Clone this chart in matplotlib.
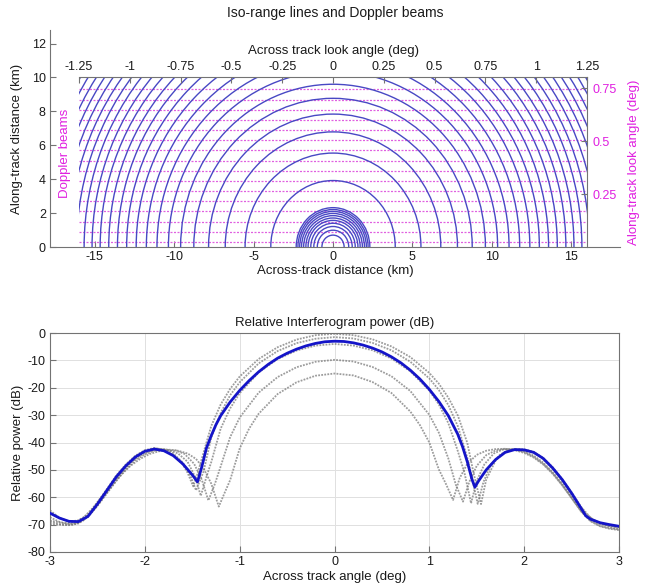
import matplotlib
matplotlib.use("Agg")
import numpy as np
import matplotlib.pyplot as plt
from matplotlib.patches import Arc, Rectangle

plt.rcParams['font.family'] = ['Liberation Sans', 'DejaVu Sans']
plt.rcParams['axes.unicode_minus'] = False

# ---------------- top panel data ----------------
# ground radii of the iso-range lines (km)
near_radii = [0.70, 0.99, 1.21, 1.40, 1.57, 1.71, 1.85, 1.98, 2.10, 2.21, 2.32]
far_radii = [3.92, 5.54, 6.79, 7.84, 8.77, 9.60, 10.37, 11.09, 11.76, 12.40,
             13.00, 13.58, 14.13, 14.67, 15.18, 15.68, 16.16, 16.63, 17.09,
             17.53, 17.96, 18.39, 18.80]
# along-track positions of the Doppler beam centres (km)
doppler_y = [0.3, 0.9, 1.5, 2.1, 2.7, 3.3, 3.9, 4.5, 5.1, 5.7, 6.3, 6.9,
             7.5, 8.1, 8.7, 9.3]
swath_half = 16.0     # km
along_extent = 10.0   # km
across_angle_ticks = [-1.25, -1, -0.75, -0.5, -0.25, 0, 0.25, 0.5, 0.75, 1, 1.25]
across_angle_labels = ['-1.25', '-1', '-0.75', '-0.5', '-0.25', '0', '0.25',
                       '0.5', '0.75', '1', '1.25']
along_angle_ticks = [0.25, 0.5, 0.75]
along_angle_labels = ['0.25', '0.5', '0.75']

# ---------------- bottom panel data ----------------
blue_x = [-3.0, -2.9, -2.8, -2.7, -2.6, -2.5, -2.4, -2.3, -2.2, -2.1, -2.0,
          -1.9, -1.8, -1.7, -1.6, -1.5, -1.445, -1.40, -1.35, -1.3, -1.25,
          -1.2, -1.1, -1.0, -0.9, -0.8, -0.7, -0.6, -0.5, -0.4, -0.3, -0.2,
          -0.1, 0.0, 0.1, 0.2, 0.3, 0.4, 0.5, 0.6, 0.7, 0.8, 0.9, 1.0, 1.1,
          1.2, 1.3, 1.35, 1.4, 1.45, 1.48, 1.52, 1.6, 1.7, 1.8, 1.9, 2.0,
          2.1, 2.2, 2.3, 2.4, 2.5, 2.6, 2.65, 2.7, 2.8, 2.9, 3.0]
blue_y = [-65.8, -67.6, -68.8, -68.9, -67.0, -62.5, -57.5, -52.5, -48.5,
          -45.3, -43.2, -42.4, -43.0, -44.8, -47.8, -51.8, -54.4, -49.0,
          -42.0, -37.5, -33.5, -30.2, -25.2, -21.0, -17.4, -14.2, -11.5,
          -9.2, -7.4, -5.9, -4.7, -3.8, -3.2, -3.0, -3.1, -3.6, -4.4, -5.5,
          -6.9, -8.7, -10.9, -13.6, -16.8, -20.6, -25.0, -30.2, -37.0, -41.5,
          -47.0, -53.5, -56.3, -54.0, -50.0, -46.2, -43.6, -42.6, -42.7,
          -43.6, -45.8, -49.3, -53.5, -58.5, -64.0, -66.8, -68.0, -69.3,
          -70.0, -70.6]

g1_x = [-3.0, -2.9, -2.8, -2.7, -2.6, -2.5, -2.4, -2.3, -2.2, -2.1, -2.0,
        -1.9, -1.8, -1.7, -1.6, -1.55, -1.49, -1.45, -1.4, -1.3, -1.2, -1.1,
        -1.0, -0.8, -0.6, -0.4, -0.2, 0.0, 0.2, 0.4, 0.6, 0.8, 1.0, 1.1, 1.2,
        1.3, 1.4, 1.465, 1.545, 1.6, 1.7, 1.8, 1.9, 2.0, 2.1, 2.2, 2.3, 2.4,
        2.5, 2.6, 2.7, 2.8, 2.9, 3.0]
g1_y = [-64.8, -67.5, -68.8, -68.5, -66.3, -62.0, -57.0, -52.0, -48.0, -44.8,
        -42.8, -42.0, -42.7, -44.6, -48.0, -51.0, -56.0, -52.0, -46.0, -34.0,
        -26.1, -20.4, -15.9, -9.5, -5.2, -2.4, -0.8, -0.3, -0.8, -2.3, -4.9,
        -8.8, -14.6, -18.5, -23.6, -30.1, -40.1, -50.9, -62.5, -53.5, -46.5,
        -43.3, -42.4, -42.5, -43.4, -45.6, -49.0, -53.3, -58.2, -63.5, -67.5,
        -69.5, -70.8, -71.6]

g2_x = [-3.0, -2.9, -2.8, -2.7, -2.6, -2.5, -2.4, -2.3, -2.2, -2.1, -2.0,
        -1.9, -1.8, -1.7, -1.6, -1.52, -1.46, -1.38, -1.3, -1.2, -1.1, -1.0,
        -0.8, -0.6, -0.4, -0.2, 0.0, 0.2, 0.4, 0.6, 0.8, 1.0, 1.1, 1.2, 1.3,
        1.4, 1.45, 1.51, 1.57, 1.65, 1.75, 1.85, 1.95, 2.05, 2.15, 2.25,
        2.35, 2.45, 2.55, 2.65, 2.75, 2.85, 3.0]
g2_y = [-67.3, -69.0, -69.8, -69.3, -67.0, -63.0, -58.3, -53.5, -49.2, -45.6,
        -43.3, -42.2, -42.4, -44.0, -47.3, -52.0, -57.5, -50.5, -38.3, -29.2,
        -22.7, -18.0, -11.1, -6.6, -3.7, -2.1, -1.5, -2.0, -3.6, -6.3, -10.5,
        -16.6, -20.8, -26.3, -34.0, -45.5, -53.0, -62.4, -54.5, -48.0, -44.3,
        -42.7, -42.5, -43.0, -44.6, -47.6, -51.6, -56.3, -61.5, -66.0, -68.8,
        -70.0, -71.0]

g3_x = [-3.0, -2.85, -2.75, -2.65, -2.55, -2.45, -2.35, -2.25, -2.15, -2.05,
        -1.95, -1.85, -1.75, -1.65, -1.55, -1.47, -1.41, -1.35, -1.3, -1.2,
        -1.1, -1.0, -0.8, -0.6, -0.4, -0.2, 0.0, 0.2, 0.4, 0.6, 0.8, 1.0,
        1.1, 1.2, 1.3, 1.37, 1.44, 1.5, 1.58, 1.68, 1.78, 1.9, 2.0, 2.1, 2.2,
        2.3, 2.4, 2.5, 2.6, 2.7, 2.8, 2.9, 3.0]
g3_y = [-68.5, -69.5, -69.3, -67.5, -64.0, -59.5, -55.0, -50.8, -47.3, -44.8,
        -43.2, -42.6, -42.8, -44.0, -47.0, -52.5, -59.5, -52.5, -47.2, -34.9,
        -27.5, -22.0, -14.4, -9.5, -6.4, -4.6, -4.0, -4.6, -6.3, -9.3, -14.0,
        -21.0, -26.1, -32.9, -43.1, -51.0, -62.2, -54.0, -48.0, -44.0, -42.5,
        -42.4, -43.2, -44.8, -47.3, -50.8, -55.0, -60.0, -65.0, -68.2, -69.8,
        -70.5, -70.9]

g4_x = [-3.0, -2.9, -2.8, -2.7, -2.6, -2.5, -2.4, -2.3, -2.2, -2.1, -2.0,
        -1.9, -1.8, -1.68, -1.58, -1.48, -1.4, -1.33, -1.26, -1.2, -1.1,
        -1.0, -0.8, -0.6, -0.4, -0.2, 0.0, 0.2, 0.4, 0.6, 0.8, 1.0, 1.1, 1.2,
        1.28, 1.355, 1.42, 1.5, 1.6, 1.7, 1.8, 1.9, 2.0, 2.1, 2.2, 2.3, 2.4,
        2.5, 2.6, 2.7, 2.8, 2.9, 3.0]
g4_y = [-69.0, -69.8, -70.2, -69.6, -67.2, -63.2, -58.6, -54.0, -49.8, -46.5,
        -44.3, -43.0, -42.5, -42.8, -44.2, -47.8, -53.5, -61.2, -55.0, -48.7,
        -38.0, -30.9, -21.8, -16.1, -12.5, -10.5, -9.8, -10.4, -12.4, -15.8,
        -21.2, -29.9, -36.4, -45.8, -55.5, -61.6, -54.5, -48.5, -44.6, -42.9,
        -42.4, -42.6, -43.5, -45.2, -47.8, -51.2, -55.5, -60.3, -65.2, -68.8,
        -70.6, -71.5, -72.0]

g5_x = [-3.0, -2.85, -2.75, -2.65, -2.55, -2.45, -2.35, -2.25, -2.15, -2.05,
        -1.95, -1.85, -1.75, -1.65, -1.55, -1.46, -1.38, -1.3, -1.22, -1.16,
        -1.1, -1.0, -0.9, -0.8, -0.6, -0.4, -0.2, 0.0, 0.2, 0.4, 0.6, 0.8,
        0.9, 1.0, 1.1, 1.18, 1.25, 1.32, 1.4, 1.5, 1.6, 1.7, 1.8, 1.9, 2.0,
        2.1, 2.2, 2.3, 2.4, 2.5, 2.6, 2.7, 2.8, 2.9, 3.0]
g5_y = [-69.8, -70.2, -70.0, -68.5, -65.0, -60.5, -56.0, -51.8, -48.5, -46.0,
        -44.2, -43.2, -42.8, -43.0, -44.0, -46.0, -49.5, -55.0, -63.4, -58.5,
        -53.7, -42.2, -34.9, -29.5, -22.3, -18.0, -15.6, -14.8, -15.5, -17.9,
        -21.9, -28.7, -33.6, -40.0, -49.8, -55.5, -61.0, -53.0, -47.8, -44.5,
        -43.0, -42.4, -42.3, -42.8, -43.8, -45.5, -48.0, -51.4, -55.6, -60.3,
        -65.0, -68.6, -70.5, -71.3, -71.8]

gray_curves = [(g1_x, g1_y), (g2_x, g2_y), (g3_x, g3_y), (g4_x, g4_y), (g5_x, g5_y)]

# ---------------- styling ----------------
RANGE_COLOR = '#4848c4'
DOPPLER_COLOR = '#e060e0'
LABEL_MAGENTA = '#e020e0'
SPINE = '0.45'
TXT = '0.1'

fig = plt.figure(figsize=(6.45, 5.85), dpi=100)
W, H = 645.0, 585.0

# ---------------- top panel ----------------
ax1 = fig.add_axes([50 / W, 1 - 247 / H, 570 / W, 217 / H])
ax1.set_xlim(-17.83, 18.08)
ax1.set_ylim(0, 12.8)
for s in ('top', 'right'):
    ax1.spines[s].set_visible(False)
for s in ('left', 'bottom'):
    ax1.spines[s].set_color(SPINE)
ax1.set_xticks([-15, -10, -5, 0, 5, 10, 15])
ax1.set_yticks([0, 2, 4, 6, 8, 10, 12])
ax1.tick_params(direction='in', length=4, colors=SPINE, labelcolor=TXT,
                labelsize=9, pad=3)

clip_box = Rectangle((-swath_half, 0), 2 * swath_half, along_extent,
                     transform=ax1.transData, facecolor='none', edgecolor='none')
ax1.add_patch(clip_box)

ax1.hlines(doppler_y, -swath_half, swath_half, colors=DOPPLER_COLOR,
           linestyles=(0, (1.6, 1.2)), linewidth=0.9, zorder=2)

for r in near_radii + far_radii:
    arc = Arc((0, 0), 2 * r, 2 * r, theta1=0, theta2=180,
              color=RANGE_COLOR, linewidth=1.0, zorder=3)
    ax1.add_patch(arc)
    arc.set_clip_path(clip_box)

ax1.set_xlabel('Across-track distance (km)', fontsize=9.5, color=TXT, labelpad=1)
ax1.set_ylabel('Along-track distance (km)', fontsize=9.5, color=TXT, labelpad=6)
ax1.set_title('Iso-range lines and Doppler beams', fontsize=10, color=TXT, pad=9)
ax1.text(-16.9, 5.5, 'Doppler beams', rotation=90, color=LABEL_MAGENTA,
         fontsize=9.5, ha='center', va='center')

# angle axes laid over the imaged area
ax2 = ax1.inset_axes([-swath_half, 0, 2 * swath_half, along_extent],
                     transform=ax1.transData)
ax2.patch.set_visible(False)
ax2.set_xlim(-1.25, 1.25)
ax2.set_ylim(0, 0.8)
for s in ('left', 'bottom'):
    ax2.spines[s].set_visible(False)
for s in ('top', 'right'):
    ax2.spines[s].set_color(SPINE)
ax2.xaxis.tick_top()
ax2.xaxis.set_label_position('top')
ax2.yaxis.tick_right()
ax2.yaxis.set_label_position('right')
ax2.set_xticks(across_angle_ticks)
ax2.set_xticklabels(across_angle_labels)
ax2.set_yticks(along_angle_ticks)
ax2.set_yticklabels(along_angle_labels)
ax2.tick_params(axis='x', direction='in', length=4, colors=SPINE,
                labelcolor=TXT, labelsize=9, pad=3)
ax2.tick_params(axis='y', direction='in', length=4, colors=SPINE,
                labelcolor=LABEL_MAGENTA, labelsize=9, pad=4)
ax2.set_xlabel('Across track look angle (deg)', fontsize=9.5, color=TXT, labelpad=5)
ax2.set_ylabel('Along-track look angle (deg)', fontsize=9.5,
               color=LABEL_MAGENTA, labelpad=8)

# ---------------- bottom panel ----------------
ax3 = fig.add_axes([50 / W, 1 - 552 / H, 569 / W, 219 / H])
ax3.set_xlim(-3, 3)
ax3.set_ylim(-80, 0)
ax3.set_xticks([-3, -2, -1, 0, 1, 2, 3])
ax3.set_yticks(list(range(-80, 1, 10)))
ax3.grid(True, color='0.88', linewidth=0.7)
ax3.set_axisbelow(True)
for s in ax3.spines.values():
    s.set_color(SPINE)
ax3.tick_params(direction='in', length=4, colors=SPINE, labelcolor=TXT,
                labelsize=9, pad=3)

for gx, gy in gray_curves:
    ax3.plot(gx, gy, color='0.45', linestyle=(0, (1.0, 0.7)), linewidth=1.3,
             alpha=0.7, zorder=2)
ax3.plot(blue_x, blue_y, color='#1414c8', linewidth=2.0, zorder=3)

ax3.set_title('Relative Interferogram power (dB)', fontsize=9.5, color=TXT, pad=5)
ax3.set_xlabel('Across track angle (deg)', fontsize=9.5, color=TXT, labelpad=2)
ax3.set_ylabel('Relative power (dB)', fontsize=9.5, color=TXT, labelpad=3)

fig.savefig('out.png', dpi=100)
